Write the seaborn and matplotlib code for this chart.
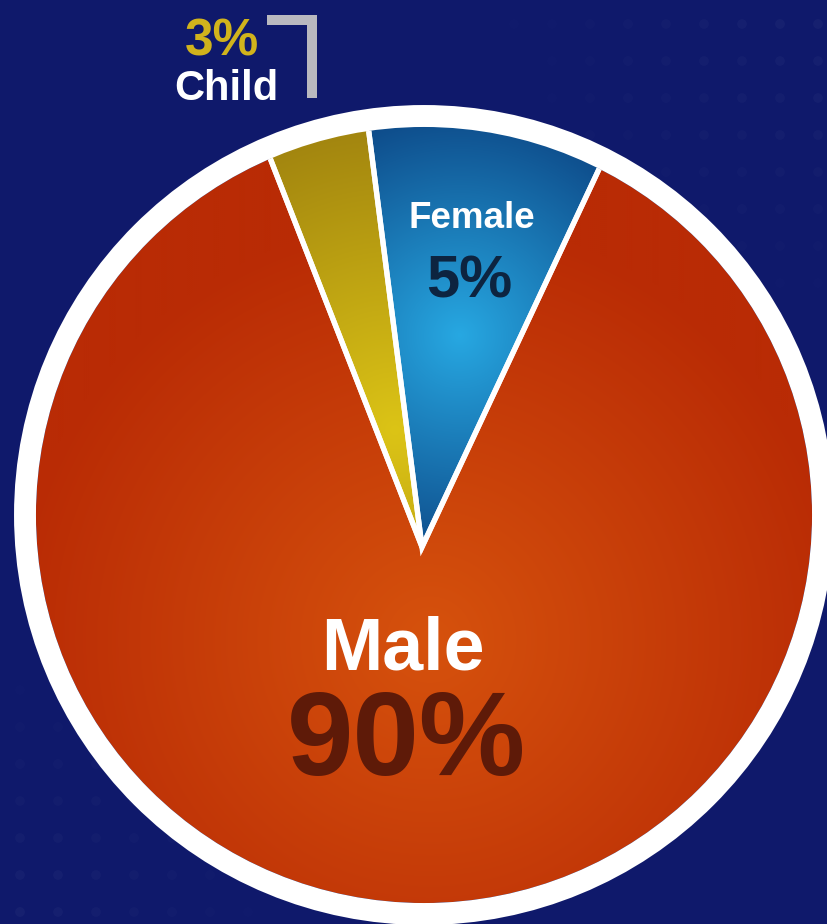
import numpy as np
import matplotlib
matplotlib.use("Agg")
import matplotlib.pyplot as plt
import seaborn as sns
from matplotlib.patches import Circle
from matplotlib.colors import to_rgb

# slices, in drawing order (counter-clockwise from the right edge of "Female")
groups = ["Female", "Child", "Male"]
shares = [9.0, 3.9, 87.1]          # wedge sizes as drawn in the picture
pct_labels = ["5%", "3%", "90%"]    # printed values

bg = "#0f196b"
inner_cols = ["#27a8e2", "#dcc416", "#d6520d"]
outer_cols = ["#0c4584", "#a3860f", "#b92b05"]
grad_centers = [(460, 589), (395, 494), (430, 284)]
grad_radius = [240, 300, 420]

sns.set_theme(style="white")
plt.rcParams["font.family"] = ["Liberation Sans", "DejaVu Sans"]

W, H = 827, 924
fig = plt.figure(figsize=(8.27, 9.24), dpi=100, facecolor=bg)
ax = fig.add_axes([0, 0, 1, 1])
ax.set_facecolor(bg)


def radial(c, r, cin, cout):
    xs = np.linspace(0, W, 414)
    ys = np.linspace(0, H, 462)
    X, Y = np.meshgrid(xs, ys)
    t = np.clip(np.hypot(X - c[0], Y - c[1]) / r, 0, 1)[..., None]
    return (1 - t) * np.array(to_rgb(cin)) + t * np.array(to_rgb(cout))


# faint dotted texture in two corners
gx, gy = np.meshgrid(np.arange(20, W, 38), np.arange(12, H, 37))
gx, gy = gx.ravel(), gy.ravel()
a1 = np.clip(1 - np.hypot(gx - 827, gy - 924) / 380, 0, 1)
a2 = np.clip(1 - np.hypot(gx - 0, gy - 0) / 320, 0, 1)
alpha = 0.035 * np.maximum(a1, a2)
dot_cols = np.zeros((len(gx), 4))
dot_cols[:, :3] = 1
dot_cols[:, 3] = alpha
ax.scatter(gx, gy, s=50, c=dot_cols, linewidths=0, zorder=0)

disk = Circle((424, 409), 388, transform=ax.transData)

wedges, _ = ax.pie(shares, center=(422, 377), radius=430, startangle=64.9,
                   counterclock=True, colors=inner_cols,
                   wedgeprops=dict(edgecolor="white", linewidth=3.8))

for i, w in enumerate(wedges):
    img = radial(grad_centers[i], grad_radius[i], inner_cols[i], outer_cols[i])
    im = ax.imshow(img, origin="lower", extent=(0, W, 0, H), aspect="auto",
                   interpolation="bilinear", zorder=1 if groups[i] == "Male" else 2)
    im.set_clip_path(disk if groups[i] == "Male" else w)
    w.set_facecolor("none")
    w.set_zorder(3)
    w.set_clip_on(True)
    w.set_clip_path(disk)

ax.add_patch(Circle((424, 409), 399, fill=False, edgecolor="white",
                    linewidth=15.8, zorder=5))

# labels
ax.text(403, H - 670, "Male", ha="center", va="baseline", color="white",
        fontsize=53, fontweight="bold", zorder=6)
ax.text(406, H - 775, pct_labels[2], ha="center", va="baseline", color="#5e1a08",
        fontsize=86, fontweight="bold", zorder=6)
ax.text(472, H - 228, "Female", ha="center", va="baseline", color="white",
        fontsize=26.5, fontweight="bold", zorder=6)
ax.text(469, H - 297, pct_labels[0], ha="center", va="baseline", color="#0d2440",
        fontsize=43, fontweight="bold", zorder=6)
ax.text(222, H - 55, pct_labels[1], ha="center", va="baseline", color="#d1b31c",
        fontsize=37, fontweight="bold", zorder=6)
ax.text(226, H - 100, "Child", ha="center", va="baseline", color="white",
        fontsize=30, fontweight="bold", zorder=6)
ax.plot([267, 312, 312], [H - 20, H - 20, H - 98], color="#b9b9bf",
        linewidth=7.2, solid_joinstyle="miter", solid_capstyle="butt", zorder=6)

ax.set_xlim(0, W)
ax.set_ylim(0, H)
ax.set_aspect("auto")
ax.axis("off")

fig.savefig("out.png", dpi=100, facecolor=bg)
